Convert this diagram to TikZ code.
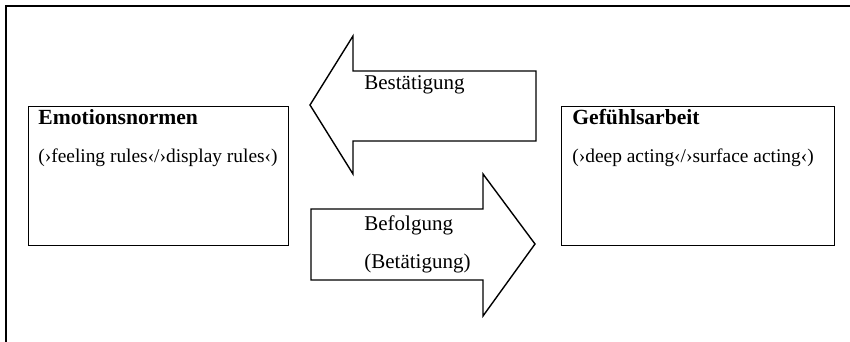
\documentclass[tikz,border=0pt]{standalone}
\usepackage{fontspec}
\setmainfont{Liberation Serif}
\begin{document}
\begin{tikzpicture}[x=0.5pt,y=-0.5pt,
  framebox/.style={draw=black, line width=0.5pt, inner sep=0pt, anchor=north west},
  blockarrow/.style={draw=black, line width=0.7pt, line join=miter, fill=white},
  headline/.style={font=\fontsize{10.8pt}{13pt}\selectfont\bfseries, inner sep=0pt, anchor=base west},
  subline/.style={font=\fontsize{9.7pt}{12pt}\selectfont, inner sep=0pt, anchor=base west},
  arrowtext/.style={font=\fontsize{10.5pt}{12.5pt}\selectfont, inner sep=0pt, anchor=base west}]
  \useasboundingbox (0,0) rectangle (850,342);

  % page frame (top and left edge)
  \coordinate (frameR) at (850,6);
  \coordinate (frameC) at (6,6);
  \coordinate (frameB) at (6,342);
  \draw[line width=0.6pt] (frameR) -- (frameC) -- (frameB);

  % the two concept boxes
  \node[framebox, minimum width=130pt, minimum height=69.5pt] (emo) at (28,106) {};
  \node[framebox, minimum width=136.5pt, minimum height=69.5pt] (gef) at (561,106) {};

  \node[headline] (emoT) at (38,125) {Emotionsnormen};
  \node[subline] (emoS) at (38,162) {(›feeling rules‹/›display rules‹)};
  \node[headline] (gefT) at (572,125) {Gefühlsarbeit};
  \node[subline] (gefS) at (572,162) {(›deep acting‹/›surface acting‹)};

  % block arrow pointing left
  \draw[blockarrow] (310,105) -- (353,36) -- (353,71) -- (536,71) -- (536,141)
    -- (353,141) -- (353,174) -- cycle;
  \node[arrowtext] (best) at (364,90) {Bestätigung};

  % block arrow pointing right
  \draw[blockarrow] (311,209) -- (483,209) -- (483,174) -- (535,244) -- (483,316)
    -- (483,280) -- (311,280) -- cycle;
  \node[arrowtext] (befo) at (364,230) {Befolgung};
  \node[arrowtext] (beta) at (364,268) {(Betätigung)};
\end{tikzpicture}
\end{document}
